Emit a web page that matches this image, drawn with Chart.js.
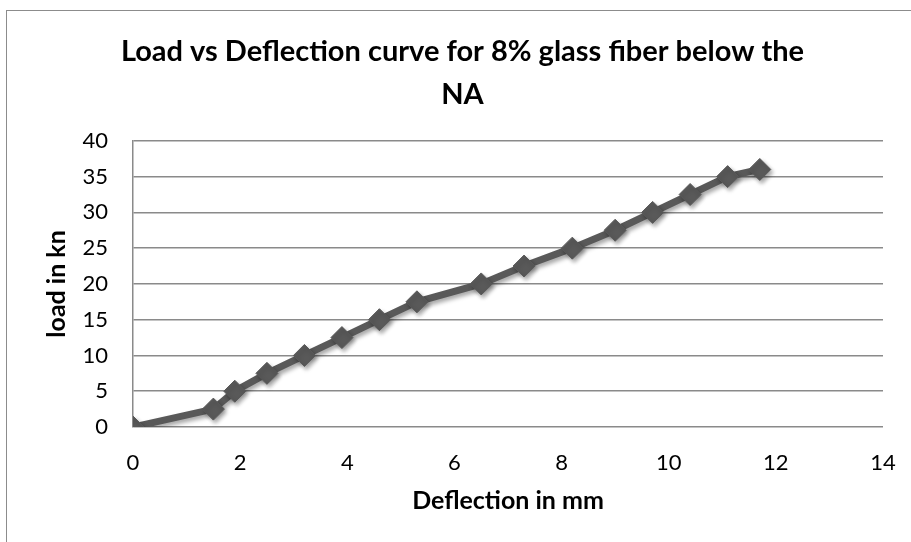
<!DOCTYPE html>
<html>
<head>
<meta charset="utf-8">
<script src="https://cdn.jsdelivr.net/npm/chart.js@4/dist/chart.umd.min.js"></script>
<style>
  html, body { margin: 0; padding: 0; background: #fff; overflow: hidden; width: 911px; height: 542px; }
  #frame { position: absolute; left: 6px; top: 10px; width: 920px; height: 540px; border-left: 1px solid #8c8c8c; border-top: 1px solid #8c8c8c; }
  #c { display: block; }
</style>
</head>
<body>
<div id="frame"><canvas id="c" width="920" height="531"></canvas></div>
<script>
const titleLines = ["Load vs Deflection curve for 8% glass fiber below the", "NA"];
const xTitle = "Deflection in mm";
const yTitle = "load in kn";
const deflection = [0, 1.5, 1.9, 2.5, 3.2, 3.9, 4.6, 5.3, 6.5, 7.3, 8.2, 9.0, 9.7, 10.4, 11.1, 11.7];
const load = [0, 2.5, 5, 7.5, 10, 12.5, 15, 17.5, 20, 22.5, 25, 27.5, 30, 32.5, 35, 36];
const xTicks = { min: 0, max: 14, step: 2 };
const yTicks = { min: 0, max: 40, step: 5 };

const points = deflection.map((x, i) => ({ x: x, y: load[i] }));

const shadowPlugin = {
  id: 'shadow',
  beforeDatasetsDraw(chart) {
    const ctx = chart.ctx;
    ctx.save();
    ctx.shadowColor = 'rgba(0,0,0,0.35)';
    ctx.shadowBlur = 4;
    ctx.shadowOffsetX = 2;
    ctx.shadowOffsetY = 3;
  },
  afterDatasetsDraw(chart) {
    chart.ctx.restore();
  }
};

new Chart(document.getElementById('c'), {
  type: 'scatter',
  data: {
    datasets: [{
      data: points,
      showLine: true,
      borderColor: '#595959',
      backgroundColor: '#595959',
      borderWidth: 7,
      pointStyle: 'rectRot',
      pointRadius: 11,
      pointBorderWidth: 1,
      pointBackgroundColor: '#595959',
      pointBorderColor: '#595959',
      tension: 0
    }]
  },
  options: {
    responsive: false,
    animation: false,
    layout: { padding: { left: 35, right: 44, top: 0, bottom: 26 } },
    plugins: {
      legend: { display: false },
      tooltip: { enabled: false },
      title: {
        display: true,
        text: titleLines,
        color: '#000',
        font: { family: 'Lato', size: 29, weight: 'bold', lineHeight: 1.48 },
        padding: { top: 19, bottom: 25 }
      }
    },
    scales: {
      x: {
        type: 'linear',
        min: xTicks.min, max: xTicks.max,
        afterFit(scale) { scale.height = 89; },
        ticks: { stepSize: xTicks.step, color: '#000', font: { family: 'Lato', size: 22 }, padding: 23, maxRotation: 0 },
        grid: { display: false, drawTicks: false },
        border: { display: false },
        title: { display: true, text: xTitle, color: '#000', font: { family: 'Lato', size: 25, weight: 'bold', lineHeight: 1.2 }, padding: 0 }
      },
      y: {
        type: 'linear',
        min: yTicks.min, max: yTicks.max,
        afterFit(scale) { scale.width = 91; },
        ticks: { stepSize: yTicks.step, color: '#000', font: { family: 'Lato', size: 22 }, padding: 25 },
        grid: { color: '#8a8a8a', lineWidth: 1.5, drawTicks: false },
        border: { display: true, color: '#8a8a8a', width: 1.5 },
        title: { display: true, text: yTitle, color: '#000', font: { family: 'Lato', size: 25, weight: 'bold', lineHeight: 1.2 }, padding: 0 }
      }
    }
  },
  plugins: [shadowPlugin]
});
</script>
</body>
</html>
